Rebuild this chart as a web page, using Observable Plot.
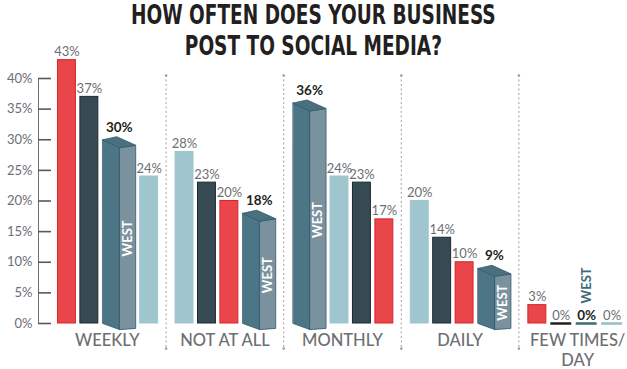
<!DOCTYPE html>
<html><head><meta charset="utf-8">
<script src="https://cdn.jsdelivr.net/npm/d3@7"></script>
<script src="https://cdn.jsdelivr.net/npm/@observablehq/plot@0.6"></script>
<style>
html,body{margin:0;padding:0;background:#fff;}
#wrap{position:relative;width:627px;height:369px;overflow:hidden;}
#chart{position:absolute;left:0;top:0;}
#title{position:absolute;left:0;top:0;width:627px;text-align:center;font-family:"DejaVu Sans Condensed","Liberation Sans Narrow","DejaVu Sans",sans-serif;font-weight:bold;font-size:26px;line-height:31px;color:#231f20;z-index:2;}
#title span{display:inline-block;white-space:nowrap;transform-origin:50% 50%;}
#chart g[aria-label^="y-axis tick"] path{stroke:#58595b;stroke-width:1.6;}
#chart g[aria-label="frame"], #chart g[aria-label="frame"] *{stroke:#58595b;stroke-width:1.6;}
</style></head><body>
<div id="wrap"><div id="title"><span>HOW OFTEN DOES YOUR BUSINESS</span><br><span>POST TO SOCIAL MEDIA?</span></div><div id="chart"></div></div>
<script>
// ---- data ----
const categories = ["WEEKLY", "NOT AT ALL", "MONTHLY", "DAILY", "FEW TIMES/\nDAY"];
const seriesNames = ["Group 1", "Group 2", "WEST", "Group 4"];
const group1 = [43, 20, 17, 10, 3];   // red
const group2 = [37, 23, 23, 14, 0];   // dark slate
const west   = [30, 18, 36, 9, 0];    // teal, 3D
const group4 = [24, 28, 24, 20, 0];   // light blue
const yTicks = [0, 5, 10, 15, 20, 25, 30, 35, 40];

const values = [group1, group2, west, group4];
const fills   = {"Group 1": "#e8464a", "Group 2": "#364a53", "WEST": "#4c7585", "Group 4": "#9fc5ce"};
const strokes = {"Group 1": "#df2027", "Group 2": "#1c2a30", "WEST": "#33596a", "Group 4": "#9fc5ce"};
const zeroStrokes = {"Group 1": "#df2027", "Group 2": "#231f20", "WEST": "#3e6b7c", "Group 4": "#8ec0cb"};

// ---- layout (in x units; one category = G units) ----
const G = 118, PAD = 9.5, BAR = 18, ZERO = 21, GAP = 4.5, FRONT = 17, SIDE = 16;
const bars = [];
categories.forEach((cat, gi) => {
  const items = seriesNames.map((s, si) => ({cat, gi, s, si, value: values[si][gi]}));
  items.sort((a, b) => b.value - a.value || a.si - b.si);
  let x = gi * G + PAD;
  items.forEach(d => {
    const w = d.value === 0 ? ZERO : (d.s === "WEST" ? FRONT + SIDE : BAR);
    d.x1 = x; d.x2 = x + w; d.cx = x + w / 2;
    x += w + GAP;
    bars.push(d);
  });
});
const flat = bars.filter(d => d.s !== "WEST" && d.value > 0);
const zeros = bars.filter(d => d.value === 0);
const boxes = bars.filter(d => d.s === "WEST" && d.value > 0);

// 3D box faces (depth offsets in percentage points)
const faces = {front: [], top: [], side: []};
boxes.forEach(d => {
  const x0 = d.x1, v = d.value;
  const push = (f, pts) => pts.forEach(([x, y]) => faces[f].push({id: d.cat, x, y}));
  push("front", [[x0, v], [x0 + FRONT, v - 1.3], [x0 + FRONT, -1.0], [x0, 0]]);
  push("top",   [[x0, v], [x0 + 14, v + 0.5], [x0 + FRONT + SIDE, v - 0.9], [x0 + FRONT, v - 1.3]]);
  push("side",  [[x0 + FRONT, v - 1.3], [x0 + FRONT + SIDE, v - 0.9], [x0 + FRONT + SIDE, -0.8], [x0 + FRONT, -1.0]]);
});

const seps = [1, 2, 3, 4].map(i => i * G);
const SEP_TOP = 40.5, SEP_BOTTOM = -4.1;
const grey = "#6d6e71";

const chart = Plot.plot({
  width: 627, height: 369,
  marginLeft: 38, marginRight: 0, marginTop: 78, marginBottom: 46,
  style: {fontFamily: "Lato, 'Open Sans', sans-serif", fontSize: "13px", color: grey, background: "transparent"},
  x: {domain: [0, 5 * G], range: [48, 636], axis: null},
  y: {domain: [0, 40], ticks: yTicks, tickFormat: d => d + "%", tickSize: -13, tickPadding: 19, line: true, label: null},
  marks: [
    Plot.ruleX(seps, {x: d => d, y1: SEP_TOP, y2: SEP_BOTTOM, stroke: "#9d9fa2", strokeWidth: 1, strokeDasharray: "2,2.5"}),
    Plot.dot(seps, {x: d => d, y: SEP_TOP, r: 1.3, fill: "#9d9fa2", stroke: "none"}),
    Plot.dot(seps, {x: d => d, y: SEP_BOTTOM, r: 1.3, fill: "#9d9fa2", stroke: "none"}),
    Plot.rect(flat, {x1: "x1", x2: "x2", y1: 0, y2: "value", fill: d => fills[d.s], stroke: d => strokes[d.s], strokeWidth: 1}),
    Plot.ruleY(zeros, {x1: "x1", x2: "x2", y: 0, stroke: d => zeroStrokes[d.s], strokeWidth: 2.5}),
    Plot.line(faces.front, {x: "x", y: "y", z: "id", curve: "linear-closed", fill: "#4c7585", stroke: "#33596a", strokeWidth: 0.8}),
    Plot.line(faces.side,  {x: "x", y: "y", z: "id", curve: "linear-closed", fill: "#7a929d", stroke: "#33596a", strokeWidth: 0.8}),
    Plot.line(faces.top,   {x: "x", y: "y", z: "id", curve: "linear-closed", fill: "#48707f", stroke: "#33596a", strokeWidth: 0.8}),
    Plot.text(boxes, {x: d => d.x1 + FRONT + SIDE / 2, y: d => d.value / 2 - 1.1, text: d => d.s, rotate: -90, fill: "white", fontWeight: "bold", fontSize: 13}),
    Plot.text(zeros.filter(d => d.s === "WEST"), {x: "cx", y: 0, text: d => d.s, rotate: -90, textAnchor: "start", dy: -20, fill: "#3e6b7c", fontWeight: "bold", fontSize: 13}),
    Plot.text(bars.filter(d => d.s !== "WEST"), {x: "cx", y: "value", text: d => d.value + "%", lineAnchor: "bottom", dy: -4, fill: grey, fontSize: 13}),
    Plot.text(boxes, {x: "cx", y: "value", text: d => d.value + "%", lineAnchor: "bottom", dy: -8, fill: "#231f20", fontWeight: "bold", fontSize: 13.5}),
    Plot.text(zeros.filter(d => d.s === "WEST"), {x: "cx", y: "value", text: d => d.value + "%", lineAnchor: "bottom", dy: -4, fill: "#231f20", fontWeight: "bold", fontSize: 13.5}),
    Plot.text(categories, {x: (d, i) => i * G + G / 2, y: 0, text: d => d, lineAnchor: "top", dy: 8, fill: grey, fontSize: 16.5, lineHeight: 1.22, fontWeight: 500})
  ]
});
document.getElementById("chart").appendChild(chart);

// fit the condensed title to the reference width
const spans = document.querySelectorAll("#title span");
const k = 365 / spans[0].offsetWidth;
spans.forEach(s => s.style.transform = `scaleX(${k})`);
</script>
</body></html>
